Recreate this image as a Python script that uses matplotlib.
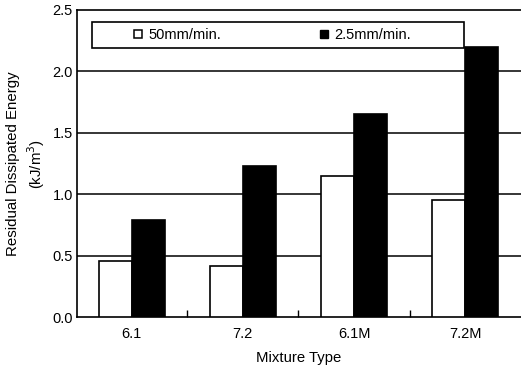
import matplotlib
matplotlib.use('Agg')
import matplotlib.pyplot as plt
from matplotlib.lines import Line2D
from matplotlib.patches import Rectangle
import numpy as np

plt.rcParams['font.family'] = ['Liberation Sans', 'DejaVu Sans']

# data
mixtures = ['6.1', '7.2', '6.1M', '7.2M']
fast_rate = [0.46, 0.42, 1.15, 0.95]    # 50mm/min.
slow_rate = [0.79, 1.23, 1.65, 2.20]    # 2.5mm/min.
series_labels = ['50mm/min.', '2.5mm/min.']
y_ticks = [0.0, 0.5, 1.0, 1.5, 2.0, 2.5]

fig = plt.figure(figsize=(5.21, 3.66), dpi=100)
ax = fig.add_axes([0.148, 0.133, 0.852, 0.840])

x = np.arange(len(mixtures))
w = 0.297
ax.bar(x - w / 2, fast_rate, w, color='white', edgecolor='black', linewidth=1.2, zorder=3)
ax.bar(x + w / 2, slow_rate, w, color='black', edgecolor='black', linewidth=1.2, zorder=3)

# horizontal grid lines behind the bars
for yv in y_ticks[1:-1]:
    ax.axhline(yv, color='black', linewidth=1.1, zorder=1)

ax.set_xlim(-0.49, 3.5)
ax.set_ylim(0, 2.5)
ax.set_yticks(y_ticks)
ax.set_yticklabels([f'{v:.1f}' for v in y_ticks])
ax.set_xticks(x)
ax.set_xticklabels(mixtures)
ax.set_xticks(x[:-1] + 0.5, minor=True)
ax.tick_params(axis='x', which='major', length=0, pad=7, labelsize=10.5)
ax.tick_params(axis='x', which='minor', direction='in', length=5, width=1)
ax.tick_params(axis='y', length=0, pad=3, labelsize=10.5)

for s in ['left', 'bottom', 'top']:
    ax.spines[s].set_linewidth(1.2)
ax.spines['right'].set_visible(False)

ax.set_xlabel('Mixture Type', fontsize=10.7, labelpad=7)
ax.set_ylabel('Residual Dissipated Energy\n(kJ/m$^3$)', fontsize=10.8,
              linespacing=1.3, labelpad=4)

# legend box with two entries
ax.add_patch(Rectangle((0.033, 0.876), 0.838, 0.085, transform=ax.transAxes,
                       facecolor='white', edgecolor='black', linewidth=1.2, zorder=4))
handles = [
    Line2D([], [], linestyle='none', marker='s', markersize=6,
           markerfacecolor='white', markeredgecolor='black', markeredgewidth=1.1),
    Line2D([], [], linestyle='none', marker='s', markersize=6,
           markerfacecolor='black', markeredgecolor='black'),
]
leg = ax.legend(handles, series_labels, ncol=2, frameon=False, loc='center left',
                bbox_to_anchor=(0.124, 0.918), borderaxespad=0, borderpad=0,
                handlelength=0.8, handletextpad=0.35, columnspacing=6.6, fontsize=10.5)
leg.set_zorder(5)

fig.savefig('out.png', dpi=100)
